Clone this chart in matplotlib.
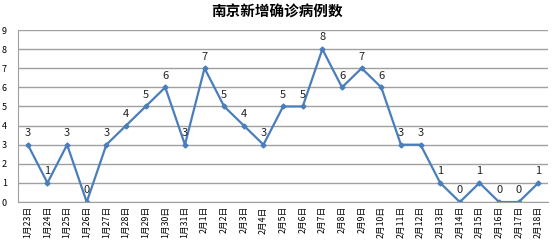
import matplotlib
matplotlib.use("Agg")
import matplotlib.pyplot as plt

plt.rcParams['font.family'] = ['Noto Sans CJK SC', 'DejaVu Sans']

dates = ['1月23日', '1月24日', '1月25日', '1月26日', '1月27日', '1月28日', '1月29日',
         '1月30日', '1月31日', '2月1日', '2月2日', '2月3日', '2月4日', '2月5日',
         '2月6日', '2月7日', '2月8日', '2月9日', '2月10日', '2月11日', '2月12日',
         '2月13日', '2月14日', '2月15日', '2月16日', '2月17日', '2月18日']
cases = [3, 1, 3, 0, 3, 4, 5, 6, 3, 7, 5, 4, 3, 5, 5, 8, 6, 7, 6, 3, 3, 1, 0, 1, 0, 0, 1]

fig = plt.figure(figsize=(5.54, 2.44), dpi=100)
ax = fig.add_axes([0.0325, 0.172, 0.957, 0.705])

x = list(range(len(dates)))
ax.plot(x, cases, color='#4a7ebb', lw=1.6, marker='D', ms=2.5)
for i, v in enumerate(cases):
    ax.text(i, v + 0.35, str(v), ha='center', va='bottom', fontsize=8, color='#222222')

ax.set_xlim(-0.5, len(dates) - 0.5)
ax.set_ylim(0, 9)
ax.set_yticks(range(10))
ax.set_xticks(x)
ax.set_xticklabels(dates, rotation=90, fontsize=6.3)
ax.tick_params(axis='y', labelsize=6.5, length=0, pad=8)
ax.tick_params(axis='x', length=0, pad=3)
ax.grid(axis='y', color='#a0a0a0', lw=1)
ax.set_axisbelow(True)
for s in ['top', 'right']:
    ax.spines[s].set_visible(False)
ax.spines['left'].set_color('#a0a0a0')
ax.spines['bottom'].set_color('#a0a0a0')

fig.text(0.5, 0.952, '南京新增确诊病例数', ha='center', va='center', fontsize=10.5, fontweight='bold')

fig.savefig('out.png', dpi=100)
